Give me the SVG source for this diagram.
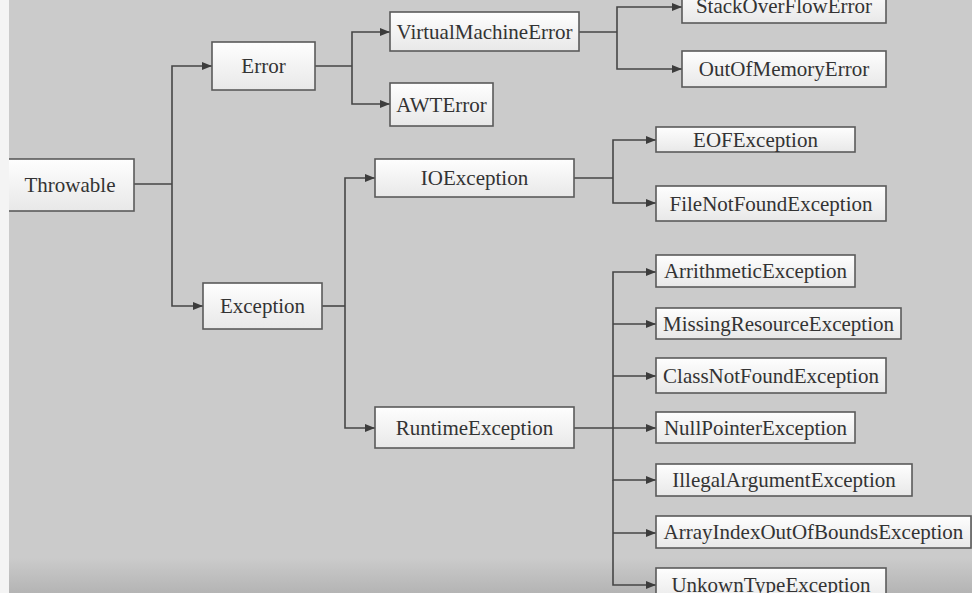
<svg xmlns="http://www.w3.org/2000/svg" width="972" height="593" viewBox="0 0 972 593">
<defs>
<linearGradient id="boxfill" x1="0" y1="0" x2="0" y2="1">
<stop offset="0" stop-color="#fefefe"/>
<stop offset="1" stop-color="#e8e8e8"/>
</linearGradient>
<linearGradient id="bottomband" x1="0" y1="0" x2="0" y2="1">
<stop offset="0" stop-color="#cbcbcb"/>
<stop offset="1" stop-color="#b4b4b4"/>
</linearGradient>
<marker id="arrow" viewBox="0 0 10 8" refX="10" refY="4" markerWidth="10" markerHeight="8" markerUnits="userSpaceOnUse" orient="auto">
<path d="M0,0 L10,4 L0,8 Z" fill="#3c3c3c"/>
</marker>
</defs>
<style>
.box{fill:url(#boxfill);stroke:#5a5a5a;stroke-width:1.6}
.lbl{font-family:"Liberation Serif","Times New Roman",serif;font-size:21px;fill:#333;text-anchor:middle}
.ln{fill:none;stroke:#464646;stroke-width:1.6}
.ar{fill:none;stroke:#464646;stroke-width:1.6;marker-end:url(#arrow)}
</style>
<rect x="0" y="0" width="972" height="593" fill="#cbcbcb"/>
<rect x="0" y="558" width="972" height="35" fill="url(#bottomband)"/>
<g id="connectors">
<path class="ln" d="M134,184 H172"/>
<path class="ar" d="M172,184 V66 H212"/>
<path class="ar" d="M172,184 V306 H203"/>
<path class="ln" d="M315,66 H352"/>
<path class="ar" d="M352,66 V32 H390"/>
<path class="ar" d="M352,66 V104 H390"/>
<path class="ln" d="M579,32 H617"/>
<path class="ar" d="M617,32 V7 H682"/>
<path class="ar" d="M617,32 V69 H682"/>
<path class="ln" d="M322,306 H345"/>
<path class="ar" d="M345,306 V178 H375"/>
<path class="ar" d="M345,306 V428 H375"/>
<path class="ln" d="M574,178 H613"/>
<path class="ar" d="M613,178 V140 H656"/>
<path class="ar" d="M613,178 V203 H656"/>
<path class="ar" d="M574,428 H656"/>
<path class="ar" d="M613,428 V272 H656"/>
<path class="ar" d="M613,324 H656"/>
<path class="ar" d="M613,376 H656"/>
<path class="ar" d="M613,428 V480 H656"/>
<path class="ar" d="M613,533 H656"/>
<path class="ar" d="M613,480 V585 H656"/>
</g>
<g id="throwable"><rect class="box" x="4" y="159" width="130" height="52"/><text class="lbl" x="70" y="192">Throwable</text></g>
<g id="error"><rect class="box" x="212" y="42" width="103" height="48"/><text class="lbl" x="263.5" y="73">Error</text></g>
<g id="exception"><rect class="box" x="203" y="283" width="119" height="46"/><text class="lbl" x="262.5" y="313">Exception</text></g>
<g id="virtualmachineerror"><rect class="box" x="390" y="12" width="189" height="39"/><text class="lbl" x="484.5" y="39">VirtualMachineError</text></g>
<g id="awterror"><rect class="box" x="390" y="83" width="103" height="43"/><text class="lbl" x="441.5" y="112">AWTError</text></g>
<g id="stackoverflowerror"><rect class="box" x="682" y="-12" width="204" height="35"/><text class="lbl" x="784" y="13">StackOverFlowError</text></g>
<g id="outofmemoryerror"><rect class="box" x="682" y="51" width="204" height="36"/><text class="lbl" x="784" y="76">OutOfMemoryError</text></g>
<g id="ioexception"><rect class="box" x="375" y="159" width="199" height="38"/><text class="lbl" x="474.5" y="185">IOException</text></g>
<g id="runtimeexception"><rect class="box" x="375" y="407" width="199" height="41"/><text class="lbl" x="474.5" y="435">RuntimeException</text></g>
<g id="eofexception"><rect class="box" x="656" y="127" width="199" height="25"/><text class="lbl" x="755.5" y="147">EOFException</text></g>
<g id="filenotfoundexception"><rect class="box" x="656" y="186" width="230" height="35"/><text class="lbl" x="771" y="211">FileNotFoundException</text></g>
<g id="arrithmeticexception"><rect class="box" x="656" y="255" width="199" height="32"/><text class="lbl" x="755.5" y="278">ArrithmeticException</text></g>
<g id="missingresourceexception"><rect class="box" x="656" y="308" width="245" height="31"/><text class="lbl" x="778.5" y="331">MissingResourceException</text></g>
<g id="classnotfoundexception"><rect class="box" x="656" y="358" width="230" height="35"/><text class="lbl" x="771" y="383">ClassNotFoundException</text></g>
<g id="nullpointerexception"><rect class="box" x="656" y="412" width="199" height="31"/><text class="lbl" x="755.5" y="435">NullPointerException</text></g>
<g id="illegalargumentexception"><rect class="box" x="656" y="464" width="256" height="32"/><text class="lbl" x="784" y="487">IllegalArgumentException</text></g>
<g id="arrayindexoutofboundsexception"><rect class="box" x="656" y="516" width="315" height="32"/><text class="lbl" x="813.5" y="539">ArrayIndexOutOfBoundsException</text></g>
<g id="unkowntypeexception"><rect class="box" x="656" y="568" width="230" height="34"/><text class="lbl" x="771" y="592">UnkownTypeException</text></g>
<rect x="0" y="0" width="9" height="593" fill="#f4f4f4"/>
</svg>
